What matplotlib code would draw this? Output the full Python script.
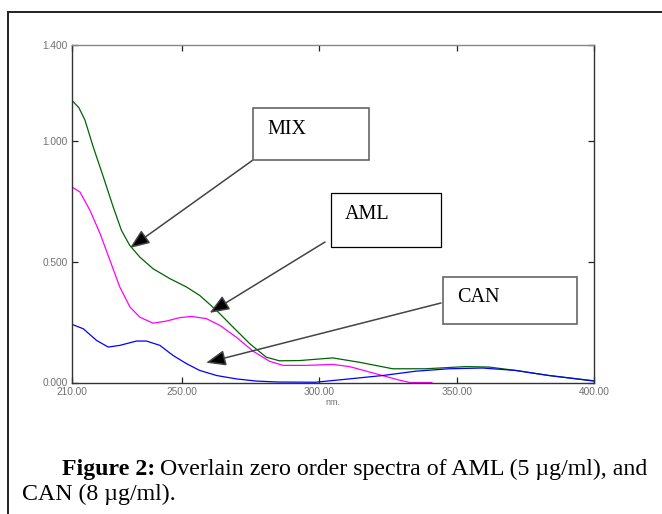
import numpy as np
import matplotlib
matplotlib.use("Agg")
import matplotlib.pyplot as plt
from matplotlib.patches import Rectangle

# spectra (wavelength nm, absorbance)
mix_nm = [210, 212.5, 214.7, 217.7, 221.4, 225, 228, 231, 234.7, 239.5, 245.6, 251.7, 256.5,
          262.6, 268.6, 274.7, 280.7, 285.5, 292.8, 304.9, 314.6, 326.7, 338.8, 353.4,
          361.8, 371.5, 383.6, 400]
mix_abs = [1.17, 1.14, 1.089, 0.978, 0.853, 0.728, 0.631, 0.569, 0.52, 0.472, 0.431, 0.396, 0.361,
           0.299, 0.23, 0.161, 0.105, 0.09, 0.091, 0.102, 0.084, 0.057, 0.057, 0.066,
           0.064, 0.05, 0.029, 0.007]

aml_nm = [210, 212.9, 216.5, 220.2, 223.8, 227.4, 231.1, 234.7, 239.5, 244.4, 249.2, 253.5,
          258.9, 263.8, 269.8, 275.9, 281.9, 286.8, 295.3, 304.9, 311, 320.7, 329.1, 333, 341]
aml_abs = [0.811, 0.79, 0.715, 0.618, 0.507, 0.396, 0.313, 0.271, 0.246, 0.255, 0.269, 0.274,
           0.265, 0.237, 0.188, 0.13, 0.088, 0.071, 0.071, 0.075, 0.066, 0.036, 0.01, 0.0, 0.0]

can_nm = [210, 214.1, 219, 223.2, 227.4, 233.5, 237.1, 242, 246.8, 251.7, 256.5, 262.6,
          269.8, 277, 285, 298.5, 311, 323.1, 335.2, 347.3, 359.4, 371.5, 383.6, 400]
can_abs = [0.241, 0.223, 0.174, 0.147, 0.154, 0.172, 0.172, 0.154, 0.112, 0.078, 0.05, 0.029,
           0.015, 0.006, 0.002, 0.001, 0.015, 0.029, 0.047, 0.057, 0.06, 0.05, 0.029, 0.006]

x_ticks = [210, 250, 300, 350, 400]
y_ticks = [0.0, 0.5, 1.0, 1.4]

# callouts: label and arrow tip (nm, abs)
labels = ["MIX", "AML", "CAN"]
tips = [(231.1, 0.558), (260.1, 0.289), (258.8, 0.082)]

W, H = 662, 514
fig = plt.figure(figsize=(W / 100, H / 100), dpi=100)

def px(x, y):
    # pixel from top-left -> figure fraction
    return x / W, 1 - y / H

# outer frame (runs off the right and bottom)
fig.patches.append(Rectangle(px(8, 530), (700 - 8) / W, (530 - 12) / H,
                             transform=fig.transFigure, fill=False,
                             edgecolor="#222222", lw=1.4))

l, b = px(72, 382.5)
ax = fig.add_axes([l, b, (594 - 72) / W, (382.5 - 45) / H])
ax.plot(mix_nm, mix_abs, color="#006400", lw=0.9)
ax.plot(aml_nm, aml_abs, color="#ff00ff", lw=0.9)
ax.plot(can_nm, can_abs, color="#0000ff", lw=0.9)
ax.set_xlim(210, 400)
ax.set_ylim(0, 1.4)
ax.set_xticks(x_ticks)
ax.set_xticklabels([f"{v:.2f}" for v in x_ticks])
ax.set_yticks(y_ticks)
ax.set_yticklabels([f"{v:.3f}" for v in y_ticks])
ax.tick_params(direction="in", length=4, width=0.9, top=True, right=True,
               labelsize=7.3, labelcolor="#707070", color="#222222", pad=3)
for lab in ax.get_xticklabels() + ax.get_yticklabels():
    lab.set_fontfamily("Liberation Sans")
for s in ax.spines.values():
    s.set_color("#333333")
    s.set_linewidth(1.0)
ax.spines["top"].set_color("#888888")
ax.set_xlabel("nm.", fontsize=6.5, color="#707070", family="Liberation Sans", labelpad=1)

boxes = [(253, 108, 116, 52, "#666666"), (331, 193, 110, 54, "#000000"),
         (443, 277, 134, 47, "#666666")]
starts = [(253, 160), (325, 242), (441, 303)]
for name, tip, (bx, by, bw, bh, ec), (sx, sy) in zip(labels, tips, boxes, starts):
    fig.patches.append(Rectangle(px(bx, by + bh), bw / W, bh / H,
                                 transform=fig.transFigure, fill=False,
                                 edgecolor=ec, lw=1.2 if ec != "#000000" else 0.9))
    fig.text(*px(bx + 14, by + 21), name, fontsize=14.5, family="Liberation Serif",
             va="center", ha="left")
    ax.annotate("", xy=tip, xycoords="data", xytext=px(sx, sy), textcoords="figure fraction",
                arrowprops=dict(arrowstyle="-|>,head_length=1.0,head_width=0.4",
                                fc="black", ec="#444444", lw=1.1, shrinkA=0, shrinkB=0,
                                mutation_scale=12),
                annotation_clip=False)

# caption
fs = 17.2
t1 = fig.text(*px(62, 469), "Figure 2:", fontsize=fs, fontweight="bold",
              family="Liberation Serif", va="center", ha="left")
fig.canvas.draw()
r = fig.canvas.get_renderer()
bb = t1.get_window_extent(r)
fig.text(bb.x1 / W + 5 / W, px(0, 469)[1],
         "Overlain zero order spectra of AML (5 \u00b5g/ml), and",
         fontsize=fs, family="Liberation Serif", va="center", ha="left")
fig.text(*px(22, 494), "CAN (8 \u00b5g/ml).", fontsize=fs, family="Liberation Serif",
         va="center", ha="left")

fig.savefig("out.png", dpi=100)
